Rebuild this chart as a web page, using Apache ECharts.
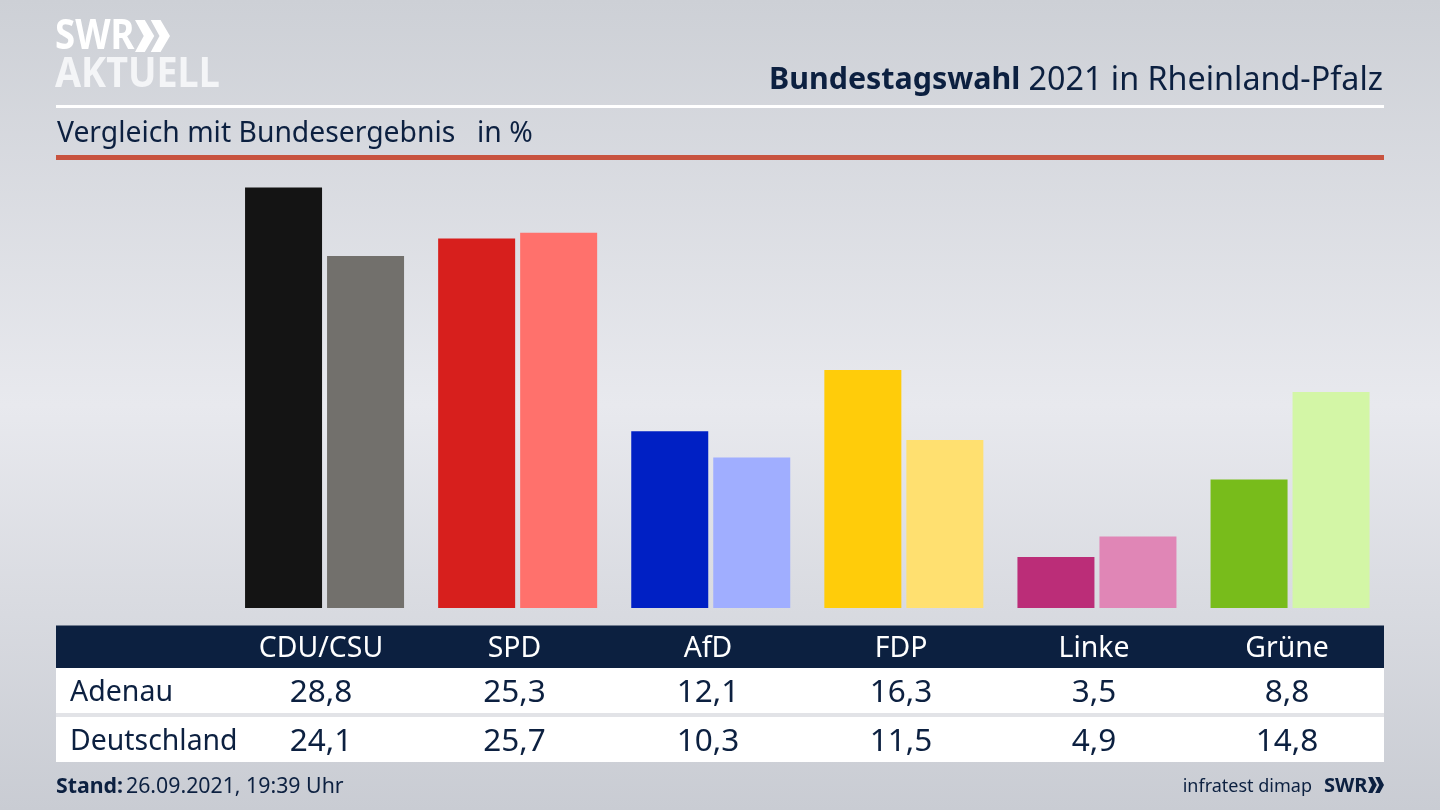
<!DOCTYPE html>
<html lang="de">

<head>
    <meta charset="UTF-8">
    <title>Bundestagswahl 2021 in Rheinland-Pfalz</title>
    <script src="https://cdn.jsdelivr.net/npm/echarts@6/dist/echarts.min.js"></script>
    <style>
        html,
        body {
            margin: 0;
            padding: 0;
        }

        #chart {
            width: 1440px;
            height: 810px;
        }
    </style>
</head>

<body>
    <div id="chart"></div>
    <script type="text/javascript">
        var parties = ['CDU/CSU', 'SPD', 'AfD', 'FDP', 'Linke', 'Grüne'];
        var adenau = [28.8, 25.3, 12.1, 16.3, 3.5, 8.8];
        var deutschland = [24.1, 25.7, 10.3, 11.5, 4.9, 14.8];
        var adenauColors = ['#141414', '#d71f1d', '#0020c4', '#ffcc0a', '#bb2d78', '#78bc1b'];
        var deutschlandColors = ['#72706c', '#ff716c', '#a0aeff', '#ffe070', '#e086b6', '#d3f6a6'];

        var navy = '#0c2040';
        var font = '"Noto Sans", sans-serif';
        var columnX = [321, 514.5, 708, 901, 1094, 1287];

        function fmt(v) {
            return v.toFixed(1).replace('.', ',');
        }

        function rect(x, y, w, h, fill) {
            return { type: 'rect', shape: { x: x, y: y, width: w, height: h }, style: { fill: fill }, silent: true };
        }

        function text(str, x, y, size, fill, align, weight, scaleX) {
            return {
                type: 'text',
                x: x,
                y: y,
                scaleX: scaleX || 1,
                silent: true,
                style: {
                    text: str,
                    fill: fill,
                    fontFamily: font,
                    fontSize: size,
                    fontWeight: weight || 'normal',
                    textAlign: align || 'left',
                    textVerticalAlign: 'middle'
                }
            };
        }

        function chevrons(x, y, w, h, fill) {
            // two arrow heads behind the SWR wordmark
            var out = [];
            for (var i = 0; i < 2; i++) {
                var x0 = x + i * w * 0.45;
                out.push({
                    type: 'polygon',
                    silent: true,
                    shape: {
                        points: [
                            [x0, y],
                            [x0 + w * 0.28, y],
                            [x0 + w * 0.55, y + h / 2],
                            [x0 + w * 0.28, y + h],
                            [x0, y + h],
                            [x0 + w * 0.25, y + h / 2]
                        ]
                    },
                    style: { fill: fill }
                });
            }
            return out;
        }

        var graphics = [
            rect(56, 105, 1328, 3, '#ffffff'),
            rect(56, 155, 1328, 5, '#c8533f'),
            rect(56, 625.5, 1328, 42.5, navy),
            rect(56, 668, 1328, 45, '#ffffff'),
            rect(56, 713, 1328, 4, '#e2e3e7'),
            rect(56, 717, 1328, 45, '#ffffff'),
            text('Bundestagswahl', 769, 80.5, 30.4, navy, 'left', 'bold'),
            text('2021 in Rheinland-Pfalz', 1383, 80.5, 32.3, navy, 'right'),
            text('Vergleich mit Bundesergebnis', 57, 134, 28.3, navy),
            text('in %', 477, 134, 28.3, navy),
            text('Adenau', 70, 693, 28.5, navy),
            text('Deutschland', 70, 742, 28.4, navy),
            text('Stand:', 56, 787, 21.3, navy, 'left', 'bold'),
            text('26.09.2021, 19:39 Uhr', 126, 787, 21.3, navy),
            text('infratest dimap', 1312, 787, 18, navy, 'right'),
            text('SWR', 1324, 786, 20, navy, 'left', 'bold'),
            text('SWR', 55, 37.5, 42, '#ffffff', 'left', 'bold', 0.87),
            text('AKTUELL', 55, 75, 41, '#f4f5f7', 'left', 'bold', 0.92)
        ];
        graphics = graphics.concat(chevrons(135, 20, 35, 32, '#ffffff'), chevrons(1368, 777, 16, 16, navy));

        for (var i = 0; i < parties.length; i++) {
            graphics.push(text(parties[i], columnX[i], 648.5, 28.4, '#ffffff', 'center'));
            graphics.push(text(fmt(adenau[i]), columnX[i], 693, 31.5, navy, 'center'));
            graphics.push(text(fmt(deutschland[i]), columnX[i], 742, 31.5, navy, 'center'));
        }

        var chart = echarts.init(document.getElementById('chart'));
        chart.setOption({
            animation: false,
            backgroundColor: {
                type: 'linear',
                x: 0,
                y: 0,
                x2: 0,
                y2: 1,
                colorStops: [
                    { offset: 0, color: '#cdd0d6' },
                    { offset: 0.5, color: '#e8e9ee' },
                    { offset: 1, color: '#c9ccd3' }
                ]
            },
            grid: { left: 228, top: 187.5, width: 1158.6, height: 420.5 },
            xAxis: { type: 'category', data: parties, show: false },
            yAxis: { type: 'value', min: 0, max: 28.8, show: false },
            series: [{
                name: 'Adenau',
                type: 'bar',
                barWidth: 77,
                barGap: '6.5%',
                data: adenau,
                itemStyle: {
                    color: function(p) {
                        return adenauColors[p.dataIndex];
                    }
                }
            }, {
                name: 'Deutschland',
                type: 'bar',
                barWidth: 77,
                data: deutschland,
                itemStyle: {
                    color: function(p) {
                        return deutschlandColors[p.dataIndex];
                    }
                }
            }],
            graphic: graphics
        });
    </script>
</body>

</html>
